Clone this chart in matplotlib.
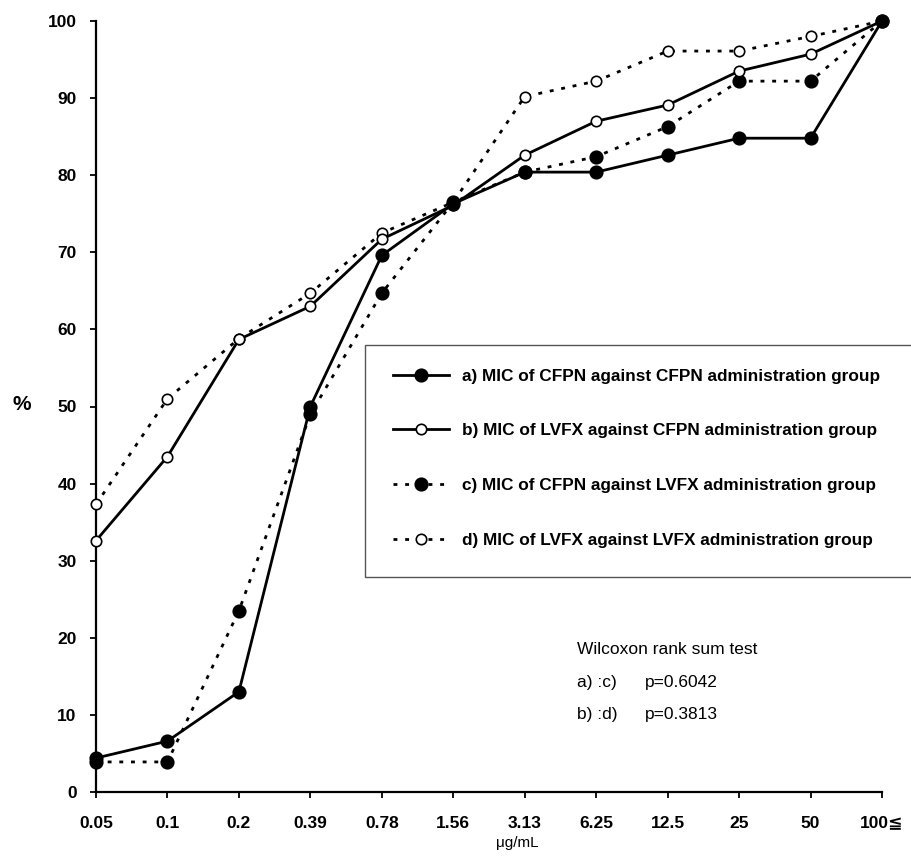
import matplotlib
matplotlib.use("Agg")
import matplotlib.pyplot as plt
from matplotlib.patches import Rectangle

plt.rcParams['font.family'] = ['Liberation Sans', 'DejaVu Sans', 'Noto Sans CJK JP']

categories = ["0.05", "0.1", "0.2", "0.39", "0.78", "1.56", "3.13", "6.25", "12.5", "25", "50", "100≦"]
series_a = [4.4, 6.6, 13.0, 50.0, 69.6, 76.3, 80.4, 80.4, 82.6, 84.8, 84.8, 100]
series_b = [32.6, 43.5, 58.7, 63.0, 71.7, 76.1, 82.6, 87.0, 89.1, 93.5, 95.7, 100]
series_c = [3.9, 3.9, 23.5, 49.0, 64.7, 76.5, 80.4, 82.4, 86.3, 92.2, 92.2, 100]
series_d = [37.3, 51.0, 58.8, 64.7, 72.5, 76.5, 90.2, 92.2, 96.1, 96.1, 98.0, 100]
labels = ["a) MIC of CFPN against CFPN administration group",
          "b) MIC of LVFX against CFPN administration group",
          "c) MIC of CFPN against LVFX administration group",
          "d) MIC of LVFX against LVFX administration group"]
yticks = [0, 10, 20, 30, 40, 50, 60, 70, 80, 90, 100]

fig = plt.figure(figsize=(9.11, 8.57), dpi=100)
ax = fig.add_axes([96/911, 1-792/857, (882-96)/911, (792-21)/857])
x = list(range(len(categories)))

dash = (0, (1.4, 2.8))
styles = {
    'a': dict(ls='-', mfc='black', ms=9, z=6),
    'b': dict(ls='-', mfc='white', ms=7.5, z=5),
    'c': dict(ls=dash, mfc='black', ms=9, z=4),
    'd': dict(ls=dash, mfc='white', ms=7.5, z=3),
}
handles = []
for key, ys, lab in zip('abcd', [series_a, series_b, series_c, series_d], labels):
    st = styles[key]
    h, = ax.plot(x, ys, color='black', lw=2.0, linestyle=st['ls'], marker='o',
                 markersize=st['ms'], markerfacecolor=st['mfc'], markeredgecolor='black',
                 markeredgewidth=1.2, label=lab, clip_on=False, zorder=st['z'])
    handles.append(h)

ax.set_xlim(0, len(categories) - 1)
ax.set_ylim(0, 100)
ax.set_xticks(x)
ax.set_xticklabels(categories)
ax.set_yticks(yticks)
for s in ['top', 'right']:
    ax.spines[s].set_visible(False)
for s in ['left', 'bottom']:
    ax.spines[s].set_linewidth(1.6)
ax.tick_params(axis='both', direction='out', length=4, width=1.3, labelsize=12.5)
ax.tick_params(axis='x', pad=13)
ax.tick_params(axis='y', pad=10)
for t in ax.get_xticklabels() + ax.get_yticklabels():
    t.set_fontweight('bold')

fig.text(22/911, 1-405/857, "%", fontsize=15, fontweight='bold', ha='center', va='center')
fig.text(517/911, 1-843/857, "μg/mL", fontsize=11, ha='center', va='center')

# legend box
rect = Rectangle((365/911, 1-577/857), (911-365)/911 + 0.01, (577-345)/857,
                 transform=fig.transFigure, fill=False, edgecolor='#555555', lw=1.0)
fig.add_artist(rect)
leg = fig.legend(handles=handles, loc='upper left', bbox_to_anchor=(384/911, 1-360/857),
                 frameon=False, fontsize=12.4, handlelength=3.3, labelspacing=2.3,
                 handletextpad=0.7, borderpad=0)
for t in leg.get_texts():
    t.set_fontweight('bold')

fig.text(577/911, 1-649/857, "Wilcoxon rank sum test", fontsize=12.5, va='center')
fig.text(577/911, 1-682/857, "a) :c)", fontsize=12.5, va='center')
fig.text(645/911, 1-682/857, "p=0.6042", fontsize=12.5, va='center')
fig.text(577/911, 1-715/857, "b) :d)", fontsize=12.5, va='center')
fig.text(645/911, 1-715/857, "p=0.3813", fontsize=12.5, va='center')

fig.savefig("out.png", dpi=100)
